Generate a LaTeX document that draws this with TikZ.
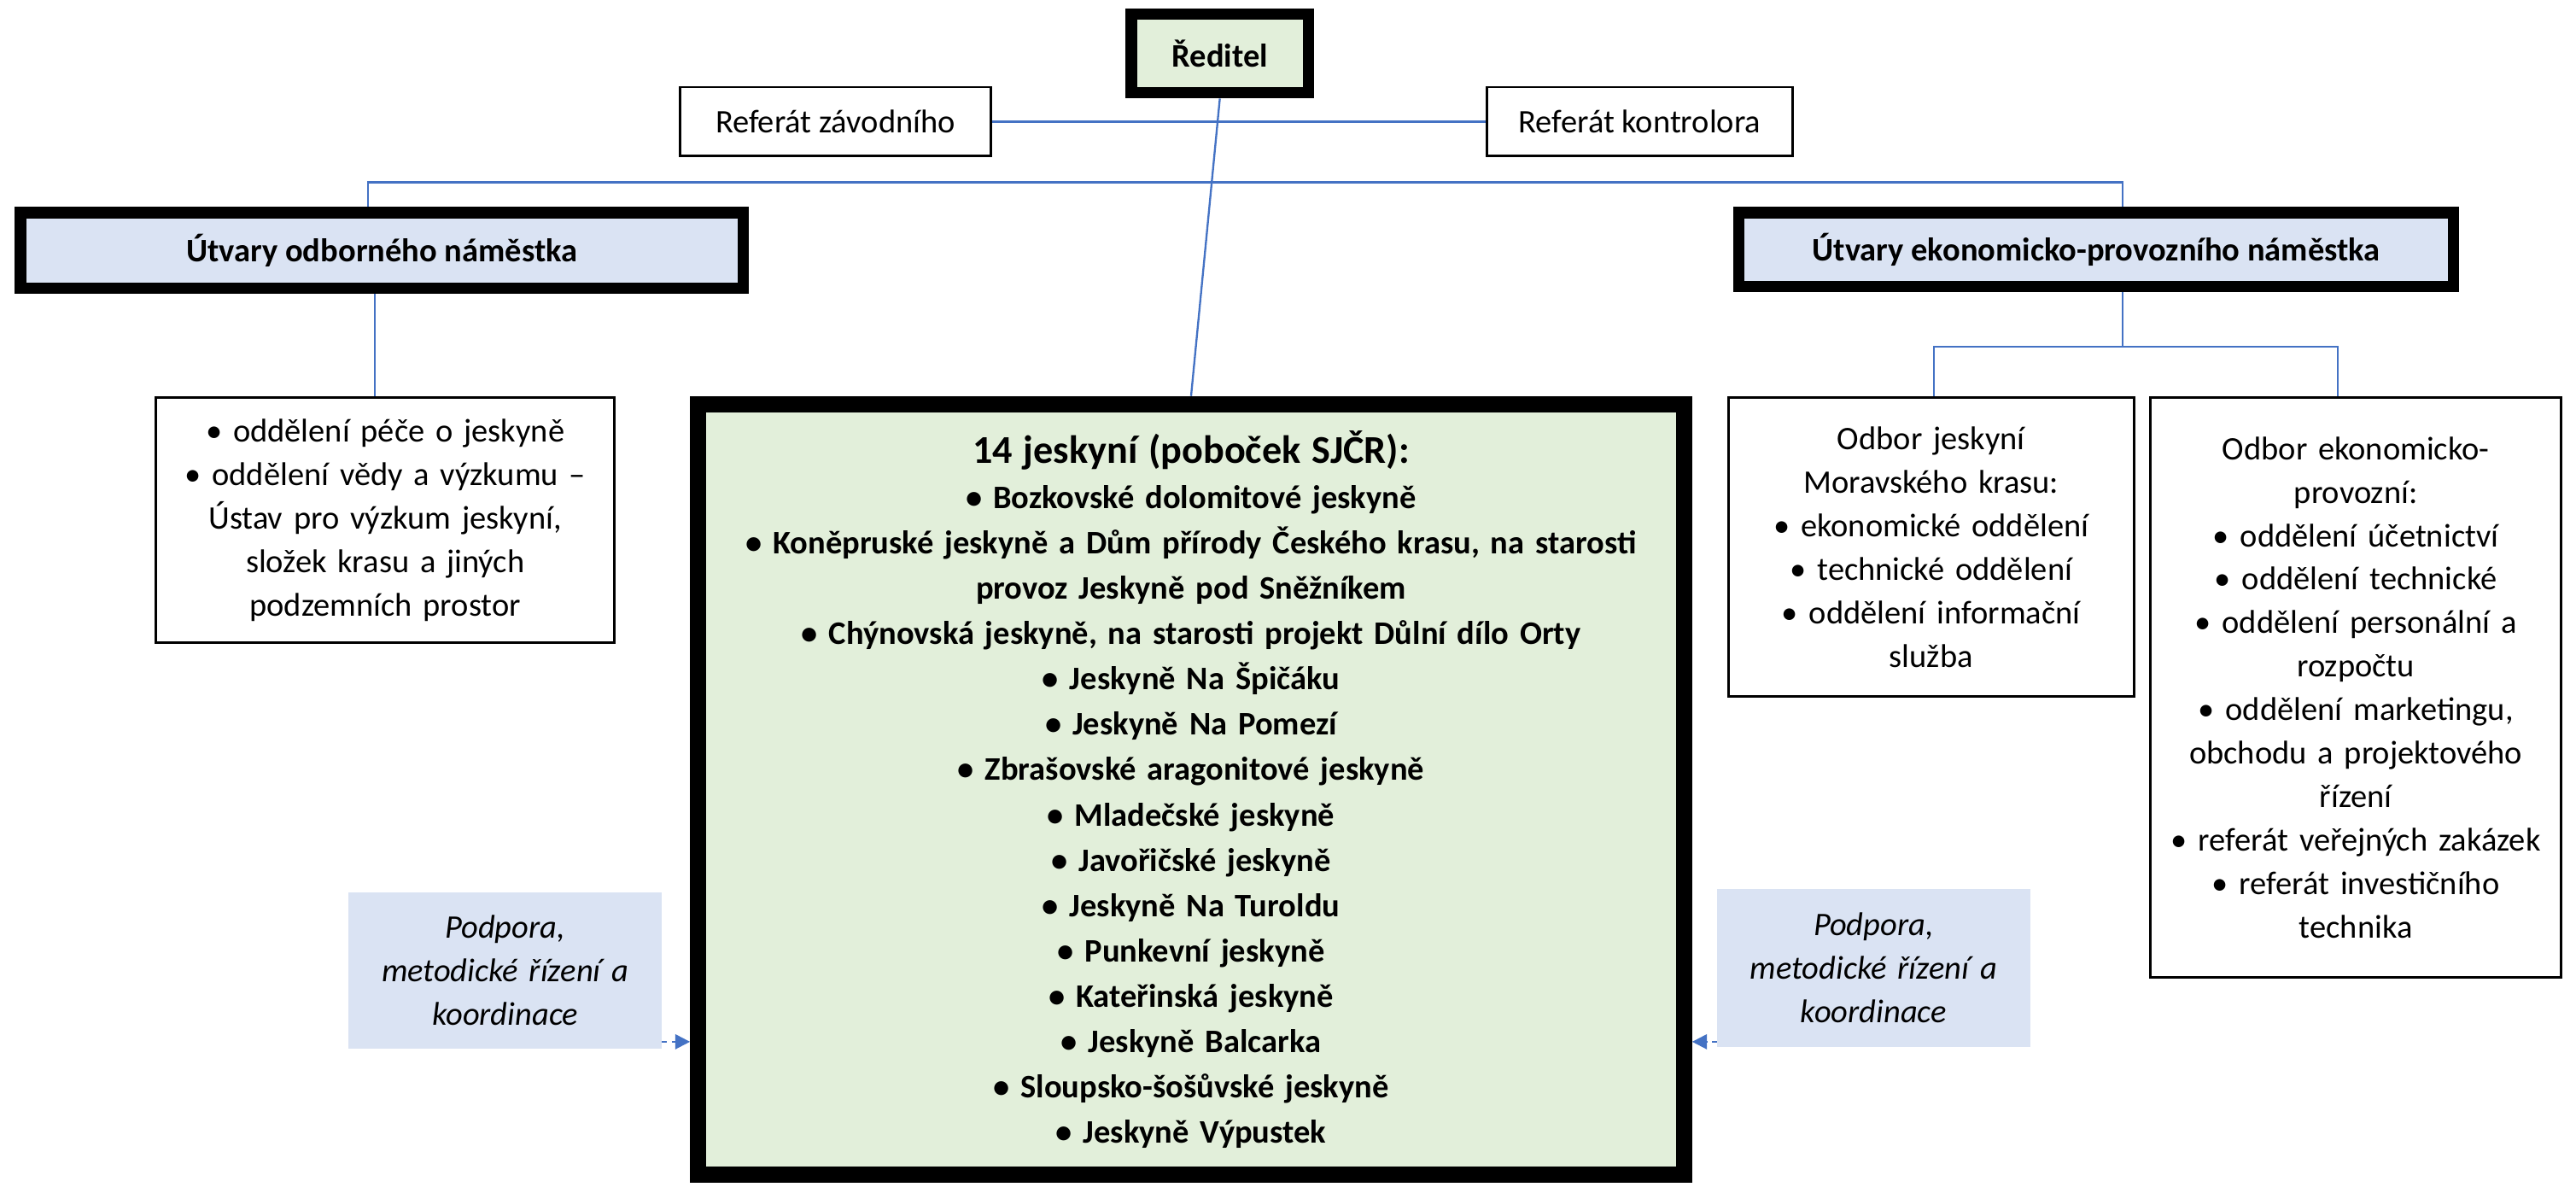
\documentclass[tikz,border=0pt]{standalone}
\usepackage{fontspec}
\setmainfont{Carlito}
\usetikzlibrary{arrows.meta}
\definecolor{gfill}{HTML}{E2EFDA}
\definecolor{bfill}{HTML}{DAE3F3}
\definecolor{lblue}{HTML}{4472C4}
\begin{document}
\begin{tikzpicture}[x=1pt,y=-1pt,
  box/.style={draw=black,line width=1.5pt,fill=white,align=center,inner sep=0pt,font=\fontsize{20}{26.5}\selectfont},
  thick box/.style={draw=black,line width=7pt,align=center,inner sep=0pt,font=\fontsize{20}{26.5}\selectfont\bfseries},
  sup/.style={fill=bfill,align=center,inner sep=0pt,font=\fontsize{20}{26.5}\selectfont\itshape},
  con/.style={draw=lblue,line width=1.2pt},
  arr/.style={draw=lblue,line width=1.2pt,dashed,-{Triangle[length=9pt,width=9pt]}}]
\useasboundingbox[fill=white] (0,0) rectangle (1568,726);
\node[thick box,fill=gfill,minimum width=108,minimum height=48] (red) at (742.5,32.5) {Ředitel};
\node[box,minimum width=189,minimum height=42] (rz) at (508.5,74) {Referát závodního};
\node[box,minimum width=186,minimum height=42] (rk) at (998,74) {Referát kontrolora};
\node[thick box,fill=bfill,minimum width=440,minimum height=46] (uo) at (232.5,152.5) {Útvary odborného náměstka};
\node[thick box,fill=bfill,minimum width=435,minimum height=45] (ue) at (1276,152) {Útvary ekonomicko-provozního náměstka};
\node[box,minimum width=279,minimum height=149,text width=270] (lb) at (234.5,316.5) {• oddělení péče o jeskyně\\ • oddělení vědy a výzkumu –\\ Ústav pro výzkum jeskyní,\\ složek krasu a jiných\\ podzemních prostor};
\node[draw=black,line width=10pt,fill=gfill,minimum width=600,minimum height=469,text width=590,align=center,inner sep=0pt,font=\fontsize{20}{27.6}\selectfont\bfseries] (big) at (725,480.5) {{\fontsize{24}{30}\selectfont 14 jeskyní (poboček SJČR):}\\ • Bozkovské dolomitové jeskyně\\ • Koněpruské jeskyně a Dům přírody Českého krasu, na starosti\\ provoz Jeskyně pod Sněžníkem\\ • Chýnovská jeskyně, na starosti projekt Důlní dílo Orty\\ • Jeskyně Na Špičáku\\ • Jeskyně Na Pomezí\\ • Zbrašovské aragonitové jeskyně\\ • Mladečské jeskyně\\ • Javořičské jeskyně\\ • Jeskyně Na Turoldu\\ • Punkevní jeskyně\\ • Kateřinská jeskyně\\ • Jeskyně Balcarka\\ • Sloupsko-šošůvské jeskyně\\ • Jeskyně Výpustek};
\node[box,minimum width=247,minimum height=182,text width=240] (oj) at (1175.5,333) {Odbor jeskyní\\ Moravského krasu:\\ • ekonomické oddělení\\ • technické oddělení\\ • oddělení informační\\ služba};
\node[box,minimum width=250,minimum height=353,text width=246] (oe) at (1434,418.5) {Odbor ekonomicko-\\ provozní:\\ • oddělení účetnictví\\ • oddělení technické\\ • oddělení personální a\\ rozpočtu\\ • oddělení marketingu,\\ obchodu a projektového\\ řízení\\ • referát veřejných zakázek\\ • referát investičního\\ technika};
\node[sup,minimum width=191,minimum height=95,text width=185] (pl) at (307.5,590.5) {Podpora,\\ metodické řízení a\\ koordinace};
\node[sup,minimum width=191,minimum height=96,text width=185] (pr) at (1140.5,589) {Podpora,\\ metodické řízení a\\ koordinace};
% connectors
\draw[con] (rz.east) -- (rk.west);
\draw[con] (red.south) -- (big.north);
\coordinate (hl) at (224,111);
\coordinate (hr) at (1292,111);
\draw[con] (uo.north -| hl) -- (hl) -- (hr) -- (ue.north -| hr);
\draw[con] (uo.south -| 228,0) -- (lb.north -| 228,0);
\coordinate (ej) at (1292,211);
\draw[con] (ue.south -| ej) -- (ej);
\draw[con] (oj.north -| 1177,0) -- (1177,211) -- (1423,211) -- (oe.north -| 1423,0);
\coordinate (al) at (403,634);
\coordinate (ar) at (1045,634);
\draw[arr] (al) -- (420,634);
\draw[arr] (ar) -- (1030,634);
\end{tikzpicture}
\end{document}
